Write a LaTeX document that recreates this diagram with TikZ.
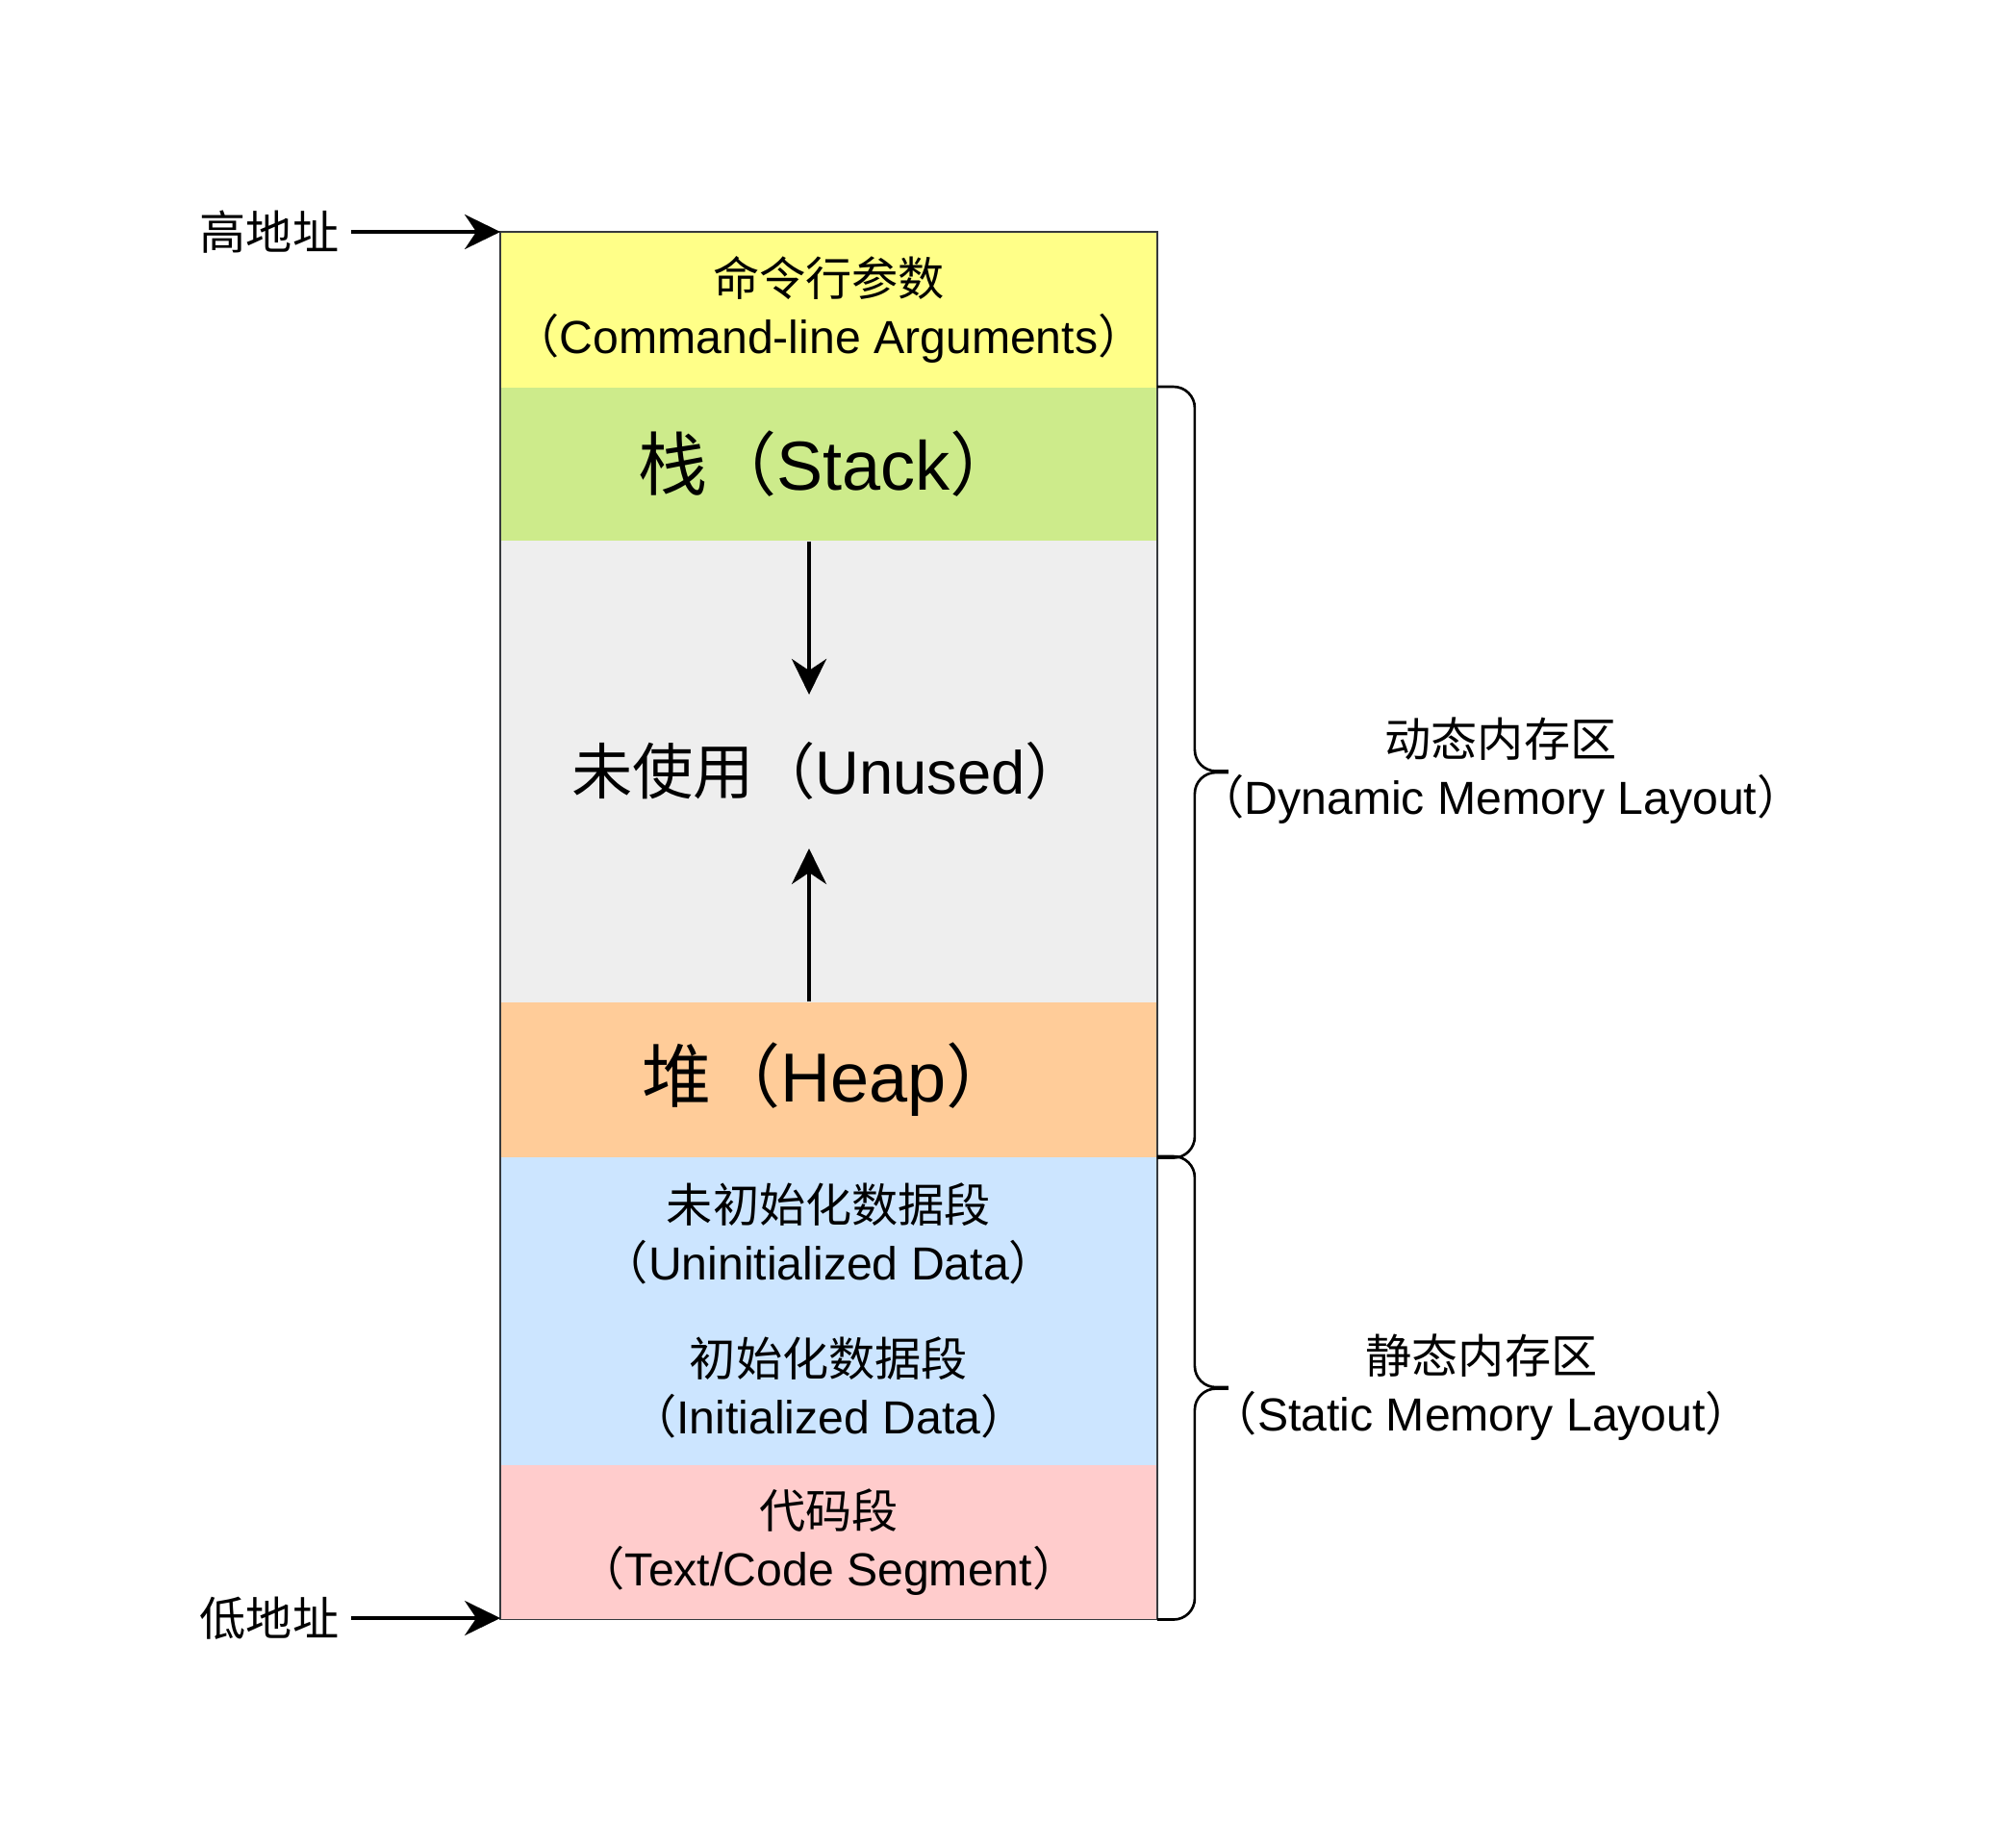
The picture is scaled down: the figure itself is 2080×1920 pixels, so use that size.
\documentclass[tikz,border=0pt]{standalone}
\usepackage{fontspec}
\setmainfont{Liberation Sans}
\newfontfamily\cjk{Noto Sans CJK SC}
\usepackage{tikz}
\usetikzlibrary{arrows.meta}
\definecolor{argsc}{HTML}{FFFF88}
\definecolor{stackc}{HTML}{CDEB8B}
\definecolor{unusedc}{HTML}{EEEEEE}
\definecolor{heapc}{HTML}{FFCC99}
\definecolor{datac}{HTML}{CCE5FF}
\definecolor{codec}{HTML}{FFCCCC}
\definecolor{edgec}{HTML}{36393D}
\newcommand{\zh}[1]{{\cjk #1}}
\newcommand{\smallsz}{\fontsize{13.7pt}{17pt}\selectfont}
\newcommand{\bigsz}{\fontsize{20.5pt}{24pt}\selectfont}
\newcommand{\midsz}{\fontsize{18pt}{22pt}\selectfont}

\begin{document}
\begin{tikzpicture}[x=0.01cm, y=-0.01cm,
			seg/.style    = {rectangle, inner sep=0pt, minimum width=6.81cm, align=center, anchor=north, text=black},
			small/.style  = {font=\smallsz, align=center, text=black},
			brace/.style  = {black, line width=0.75pt, rounded corners=0.22cm},
			arr/.style    = {black, line width=1.1pt, -{Stealth[length=0.37cm, width=0.36cm, inset=0.12cm]}},]
			
			\fill[white] (0,0) rectangle (2080,1920);
			\useasboundingbox (0,0) rectangle (2080,1920);
			
			%% MEMORY SEGMENTS, HIGH TO LOW
			\node[seg, fill=argsc, minimum height=1.61cm, font=\smallsz] (args) at (861.5,241) {\zh{命令行参数}\\\zh{（}Command-line Arguments\zh{）}};
			\node[seg, fill=stackc, minimum height=1.59cm, font=\bigsz] (stack) at (861.5,402) {\zh{栈（}Stack\zh{）}};
			\node[seg, fill=unusedc, minimum height=4.80cm, font=\midsz] (unused) at (861.5,561) {\zh{未使用（}Unused\zh{）}};
			\node[seg, fill=heapc, minimum height=1.61cm, font=\bigsz] (heap) at (861.5,1041) {\zh{堆（}Heap\zh{）}};
			\node[seg, fill=datac, minimum height=1.60cm, font=\smallsz] (uninit) at (861.5,1202) {\zh{未初始化数据段}\\\zh{（}Uninitialized Data\zh{）}};
			\node[seg, fill=datac, minimum height=1.60cm, font=\smallsz] (init) at (861.5,1362) {\zh{初始化数据段}\\\zh{（}Initialized Data\zh{）}};
			\node[seg, fill=codec, minimum height=1.60cm, font=\smallsz] (code) at (861.5,1522) {\zh{代码段}\\\zh{（}Text/Code Segment\zh{）}};
			\draw[edgec, line width=0.4pt] (args.north west) rectangle (code.south east);
			
			%% GROWTH OF STACK AND HEAP
			\coordinate (stacktip) at (841,722);
			\coordinate (heaptip) at (841,882);
			\draw[arr] (stacktip |- stack.south) -- (stacktip);
			\draw[arr] (heaptip |- heap.north) -- (heaptip);
			
			%% ADDRESSES
			\node[small] (hiaddr) at (280,241) {\zh{高地址}};
			\node[small] (loaddr) at (280,1682) {\zh{低地址}};
			\draw[arr] (hiaddr.east) -- (hiaddr.east -| args.north west);
			\draw[arr] (loaddr.east) -- (loaddr.east -| code.south west);
			
			%% BRACES
			\draw[brace] (stack.north east) -- ++(39,0) -- ++(0,399.5) -- ++(35,0);
			\draw[brace] (heap.south east) -- ++(39,0) -- ++(0,-400.5) -- ++(35,0);
			\draw[brace] (uninit.north east) -- ++(39,0) -- ++(0,240) -- ++(35,0);
			\draw[brace] (code.south east) -- ++(39,0) -- ++(0,-240) -- ++(35,0);
			\node[small] (dynlbl) at (1560,801.5) {\zh{动态内存区}\\\zh{（}Dynamic Memory Layout\zh{）}};
			\node[small] (statlbl) at (1540,1442) {\zh{静态内存区}\\\zh{（}Static Memory Layout\zh{）}};
			\end{tikzpicture}
\end{document}
